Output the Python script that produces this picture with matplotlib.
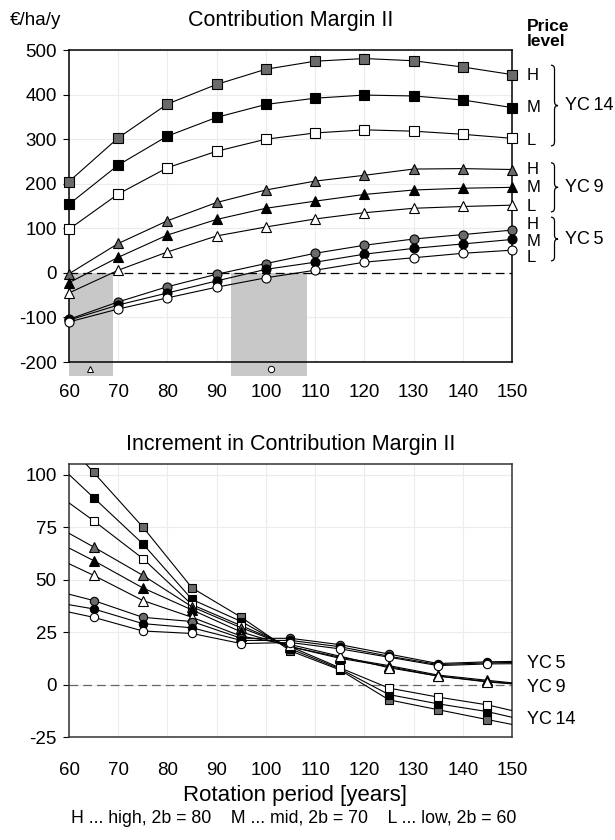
import numpy as np
import matplotlib
matplotlib.use("Agg")
import matplotlib.pyplot as plt
from matplotlib.path import Path
from matplotlib.patches import PathPatch, Rectangle
import matplotlib.transforms as mtransforms

plt.rcParams['font.family'] = ['Liberation Sans', 'DejaVu Sans']
plt.rcParams['axes.unicode_minus'] = False

# ---- contribution margin II [EUR/ha/y] ----
years = [60, 70, 80, 90, 100, 110, 120, 130, 140, 150]
cm_yc14_h = [205, 303, 379, 423, 457, 475, 481, 476, 462, 445]
cm_yc14_m = [154, 242, 307, 349, 378, 392, 399, 397, 388, 371]
cm_yc14_l = [98, 177, 236, 273, 300, 314, 321, 318, 311, 302]
cm_yc9_h = [-2, 66, 117, 158, 186, 206, 219, 233, 234, 232]
cm_yc9_m = [-22, 35, 85, 120, 145, 161, 176, 186, 190, 192]
cm_yc9_l = [-45, 6, 47, 83, 103, 121, 135, 145, 149, 152]
cm_yc5_h = [-104, -65, -31, -3, 21, 44, 62, 76, 86, 96]
cm_yc5_m = [-106, -72, -45, -18, 8, 24, 42, 55, 65, 75]
cm_yc5_l = [-110, -81, -56, -32, -11, 6, 24, 34, 44, 51]

# break-even ranges and their centre points
breakeven_ranges = [(60, 68.9), (92.9, 108.4)]
breakeven_years = [64.3, 101]
breakeven_markers = ['^', 'o']

# ---- increment, first and last value are line ends only ----
years_inc = [60, 65, 75, 85, 95, 105, 115, 125, 135, 145, 150]
inc_yc14_h = [114, 101, 75, 46, 32, 16, 7, -7.3, -12, -16.7, -19]
inc_yc14_m = [100, 89, 67, 40.5, 30, 17, 7.5, -4.8, -9.2, -12.9, -15.6]
inc_yc14_l = [86.5, 78, 60, 38, 28, 18, 8, -1.7, -6, -9.7, -12.4]
inc_yc9_h = [72, 65.5, 52, 37, 27, 18, 13, 9, 4.5, 2, 0.8]
inc_yc9_m = [65, 59, 46, 35.5, 25, 18, 12.5, 8.5, 4, 1.5, 0.5]
inc_yc9_l = [57.5, 52, 40, 32, 23, 19, 13.5, 8, 4, 1.2, 0.3]
inc_yc5_h = [43, 40, 32, 30, 22, 22, 19, 14.5, 10, 10.8, 11]
inc_yc5_m = [38, 36, 29, 27, 21, 21, 18, 13.5, 9.5, 10.3, 10.5]
inc_yc5_l = [34.5, 32, 25.5, 24.3, 19.5, 20, 17, 13, 9, 9.8, 9.9]

level_fill = {'H': '#6b6b6b', 'M': '#000000', 'L': '#ffffff'}
class_marker = {'YC14': 's', 'YC9': '^', 'YC5': 'o'}

cm_series = [('YC14', 'H', cm_yc14_h), ('YC14', 'M', cm_yc14_m), ('YC14', 'L', cm_yc14_l),
             ('YC9', 'H', cm_yc9_h), ('YC9', 'M', cm_yc9_m), ('YC9', 'L', cm_yc9_l),
             ('YC5', 'H', cm_yc5_h), ('YC5', 'M', cm_yc5_m), ('YC5', 'L', cm_yc5_l)]
inc_series = [('YC14', 'H', inc_yc14_h), ('YC14', 'M', inc_yc14_m), ('YC14', 'L', inc_yc14_l),
              ('YC9', 'H', inc_yc9_h), ('YC9', 'M', inc_yc9_m), ('YC9', 'L', inc_yc9_l),
              ('YC5', 'H', inc_yc5_h), ('YC5', 'M', inc_yc5_m), ('YC5', 'L', inc_yc5_l)]


def brace(ax, x, y_top, y_bot, w, r):
    # right-facing curly brace, x in axes fraction, y in data units
    tr = mtransforms.blended_transform_factory(ax.transAxes, ax.transData)
    mid = (y_top + y_bot) / 2
    xm = x + w / 2
    verts = [(x, y_top), (xm, y_top), (xm, y_top - r),
             (xm, mid + r), (xm, mid), (x + w, mid),
             (xm, mid), (xm, mid - r),
             (xm, y_bot + r), (xm, y_bot), (x, y_bot)]
    codes = [Path.MOVETO, Path.CURVE3, Path.CURVE3,
             Path.LINETO, Path.CURVE3, Path.CURVE3,
             Path.CURVE3, Path.CURVE3,
             Path.LINETO, Path.CURVE3, Path.CURVE3]
    ax.add_patch(PathPatch(Path(verts, codes), fill=False, lw=0.9,
                           color='black', transform=tr, clip_on=False))


def style_axes(ax, pad):
    ax.set_xlim(60, 150)
    ax.set_xticks(range(60, 151, 10))
    ax.grid(True, color='#ececec', lw=0.8)
    ax.set_axisbelow(True)
    ax.tick_params(axis='x', length=0, pad=pad, labelsize=13.5)
    ax.tick_params(axis='y', length=4, width=0.8, pad=5, labelsize=13.5)


fig = plt.figure(figsize=(6.15, 8.4), dpi=100)

# ======================
# upper panel
# ======================
ax1 = fig.add_axes([0.1122, 0.569, 0.7203, 0.3714])
style_axes(ax1, 16)
ax1.set_ylim(-200, 500)
ax1.set_yticks(range(-200, 501, 100))
for s in ax1.spines.values():
    s.set_linewidth(1.1)

for x0, x1 in breakeven_ranges:
    ax1.add_patch(Rectangle((x0, -232), x1 - x0, 232, facecolor='#c8c8c8',
                            edgecolor='none', zorder=1.5, clip_on=False))
for xb, mk in zip(breakeven_years, breakeven_markers):
    ax1.plot([xb], [-216], marker=mk, ms=4.5, mfc='white', mec='black',
             mew=0.7, ls='none', clip_on=False, zorder=3)
ax1.plot([60, 150], [0, 0], ls=(0, (7, 4)), color='black', lw=0.9, zorder=2)

for yc, lvl, vals in cm_series:
    ms = 7.5 if yc == 'YC9' else 6.5
    ax1.plot(years, vals, color='black', lw=0.8, marker=class_marker[yc],
             ms=ms, mfc=level_fill[lvl], mec='black', mew=0.8,
             clip_on=False, zorder=4)

fig.text(0.473, 0.976, 'Contribution Margin II', fontsize=15.5,
         ha='center', va='center')
fig.text(0.016, 0.976, '€/ha/y', fontsize=13.5, va='center', ha='left')
ax1.text(1.034, 1.074, 'Price', transform=ax1.transAxes, fontsize=12.5,
         fontweight='bold', va='center')
ax1.text(1.034, 1.026, 'level', transform=ax1.transAxes, fontsize=12.5,
         fontweight='bold', va='center')

tr1 = mtransforms.blended_transform_factory(ax1.transAxes, ax1.transData)
level_label_y = {'YC14': [444, 372, 298], 'YC9': [231, 191, 148], 'YC5': [108, 71, 35]}
brace_span = {'YC14': (466, 285), 'YC9': (247, 137), 'YC5': (125, 27)}
for yc in ['YC14', 'YC9', 'YC5']:
    for lvl, yv in zip(['H', 'M', 'L'], level_label_y[yc]):
        ax1.text(1.034, yv, lvl, transform=tr1, fontsize=12, va='center')
    top, bot = brace_span[yc]
    brace(ax1, 1.088, top, bot, 0.016, 9)
    ax1.text(1.12, (top + bot) / 2, yc.replace('YC', 'YC\u2009'), transform=tr1,
             fontsize=13, va='center')

# ======================
# lower panel
# ======================
ax2 = fig.add_axes([0.1122, 0.1226, 0.7203, 0.325])
style_axes(ax2, 18)
ax2.set_ylim(-25, 105)
ax2.set_yticks([-25, 0, 25, 50, 75, 100])
for s in ax2.spines.values():
    s.set_linewidth(1.1)
    s.set_color('#333333')
ax2.axhline(0, ls=(0, (7, 4)), color='#666666', lw=0.9, zorder=2)

for yc, lvl, vals in inc_series:
    ax2.plot(years_inc, vals, color='black', lw=0.8, marker=class_marker[yc],
             ms=6.5 if yc == 'YC9' else 6, mfc=level_fill[lvl], mec='black',
             mew=0.8, markevery=list(range(1, len(years_inc) - 1)), zorder=4)

fig.text(0.473, 0.4714, 'Increment in Contribution Margin II', fontsize=15.5,
         ha='center', va='center')
tr2 = mtransforms.blended_transform_factory(ax2.transAxes, ax2.transData)
for yc, yv in zip(['YC5', 'YC9', 'YC14'], [10.1, -1.3, -16.8]):
    ax2.text(1.034, yv, yc.replace('YC', 'YC\u2009'), transform=tr2,
             fontsize=13, va='center')

fig.text(0.48, 0.0535, 'Rotation period [years]', fontsize=16,
         ha='center', va='center')
fig.text(0.478, 0.026, 'H ... high, 2b = 80    M ... mid, 2b = 70    L ... low, 2b = 60',
         fontsize=12.8, ha='center', va='center')

fig.savefig('out.png', dpi=100)
